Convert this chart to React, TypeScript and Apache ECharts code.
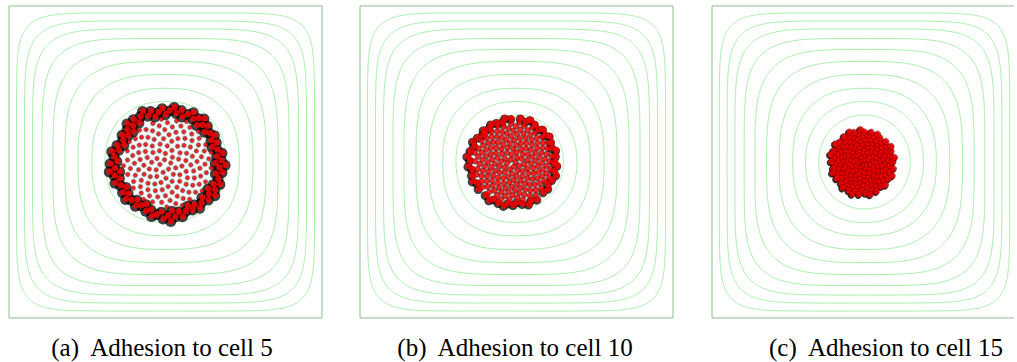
import React, { useEffect, useRef } from "react";
import * as echarts from "echarts";

// ---- data ----
// contour levels shared by the three panels: radius (px from centre) and squareness exponent
const contourRadii = [149, 141, 133, 123.5, 112.5, 100.5, 87.5, 73.7, 60.5, 47];
const contourSquareness = [8, 6.6, 5.6, 4.7, 3.9, 3.3, 2.8, 2.45, 2.2, 2.05];

const captions = ["(a)  Adhesion to cell 5", "(b)  Adhesion to cell 10", "(c)  Adhesion to cell 15"];

// cluster of cells in each panel
const clusterCenterX = [2.5, -3, -2];
const clusterCenterY = [-1, 0, -0.5];
const coreCellCounts = [135, 180, 175];
const coreRadii = [45, 40, 33.5];
const rimCellCounts = [95, 52, 0];
const rimInnerRadii = [46.5, 40.5, 0];
const rimOuterRadii = [56.5, 45, 0];
// radial bumps of the cluster outline, 12 directions counter-clockwise from east
const outlineBumpsA = [1.03, 0.98, 1.04, 1.0, 1.05, 0.97, 1.06, 1.0, 0.97, 1.04, 0.98, 1.02];
const outlineBumpsB = [1.02, 0.99, 1.02, 1.03, 0.98, 1.02, 1.03, 1.0, 1.02, 0.98, 1.03, 0.99];
const outlineBumpsC = [1.03, 1.0, 0.98, 1.02, 1.0, 1.03, 1.0, 0.98, 1.01, 1.0, 1.03, 1.0];
const outlineBumps = [outlineBumpsA, outlineBumpsB, outlineBumpsC];

// ---- layout / style ----
const PANEL_LEFT = [9, 360, 712];
const PANEL_TOP = 6;
const PANEL_W = 313;
const PANEL_H = 312;
const CAPTION_X = [162, 515, 886];
const CAPTION_Y = 347;
const CONTOUR_COLOR = "#aaf0aa";
const BORDER_COLOR = "#8dbd8d";
const GOLDEN = Math.PI * (3 - Math.sqrt(5));

function bumpAt(bumps: number[], t: number) {
  const n = bumps.length;
  let a = t % (2 * Math.PI);
  if (a < 0) a += 2 * Math.PI;
  const f = (a / (2 * Math.PI)) * n;
  const i0 = Math.floor(f) % n;
  const i1 = (i0 + 1) % n;
  const w = f - Math.floor(f);
  return bumps[i0] * (1 - w) + bumps[i1] * w;
}

function cellPositions(count: number, rIn: number, rOut: number, bumps: number[], cx: number, cy: number, bumpWeight: number) {
  const pts: number[][] = [];
  for (let i = 0; i < count; i++) {
    const t = i * GOLDEN;
    const frac = (i + 0.5) / count;
    let r = Math.sqrt(rIn * rIn + (rOut * rOut - rIn * rIn) * frac);
    const b = bumpAt(bumps, t);
    r *= 1 + (b - 1) * bumpWeight * (r / (rOut || 1));
    pts.push([cx + r * Math.cos(t), cy + r * Math.sin(t)]);
  }
  return pts;
}

function contourItem(params: any, api: any) {
  const r = api.value(0);
  const n = api.value(1);
  const pts: number[][] = [];
  const steps = 360;
  for (let k = 0; k < steps; k++) {
    const t = (k / steps) * Math.PI * 2;
    const c = Math.cos(t);
    const s = Math.sin(t);
    const x = r * Math.sign(c) * Math.pow(Math.abs(c), 2 / n);
    const y = r * Math.sign(s) * Math.pow(Math.abs(s), 2 / n);
    pts.push(api.coord([x, y]));
  }
  return {
    type: "polygon",
    shape: { points: pts },
    style: { fill: "none", stroke: CONTOUR_COLOR, lineWidth: 1 },
  };
}

function buildOption() {
  const grid: any[] = [];
  const xAxis: any[] = [];
  const yAxis: any[] = [];
  const series: any[] = [];
  const contourData = contourRadii.map((r, i) => [r, contourSquareness[i]]);

  for (let p = 0; p < 3; p++) {
    grid.push({
      left: PANEL_LEFT[p],
      top: PANEL_TOP,
      width: PANEL_W,
      height: PANEL_H,
      show: true,
      borderColor: BORDER_COLOR,
      borderWidth: 1,
      backgroundColor: "#fff",
    });
    xAxis.push({ type: "value", gridIndex: p, min: -PANEL_W / 2, max: PANEL_W / 2, show: false });
    yAxis.push({ type: "value", gridIndex: p, min: -PANEL_H / 2, max: PANEL_H / 2, show: false });

    series.push({
      type: "custom",
      xAxisIndex: p,
      yAxisIndex: p,
      renderItem: contourItem,
      data: contourData,
      z: 1,
      silent: true,
    });

    const cx = clusterCenterX[p];
    const cy = clusterCenterY[p];
    const core = cellPositions(coreCellCounts[p], 0, coreRadii[p], outlineBumps[p], cx, cy, p === 2 ? 1 : 0.4);
    const rim = rimCellCounts[p] > 0
      ? cellPositions(rimCellCounts[p], rimInnerRadii[p], rimOuterRadii[p], outlineBumps[p], cx, cy, 1)
      : [];

    if (p === 0) {
      series.push({ type: "scatter", xAxisIndex: p, yAxisIndex: p, data: core, symbol: "circle", symbolSize: 6, itemStyle: { color: "rgba(0,0,0,0.28)" }, z: 2, silent: true });
      series.push({ type: "scatter", xAxisIndex: p, yAxisIndex: p, data: rim, symbol: "circle", symbolSize: 11, symbolOffset: [-0.5, 0.5], itemStyle: { color: "rgba(0,0,0,0.92)" }, z: 3, silent: true });
      series.push({ type: "scatter", xAxisIndex: p, yAxisIndex: p, data: core, symbol: "circle", symbolSize: 4, itemStyle: { color: "#ff0000", borderColor: "#000", borderWidth: 0.3 }, z: 4, silent: true });
      series.push({ type: "scatter", xAxisIndex: p, yAxisIndex: p, data: rim, symbol: "circle", symbolSize: 6.5, itemStyle: { color: "#ff0000" }, z: 5, silent: true });
    } else if (p === 1) {
      series.push({ type: "scatter", xAxisIndex: p, yAxisIndex: p, data: core, symbol: "circle", symbolSize: 7, itemStyle: { color: "rgba(0,0,0,0.35)" }, z: 2, silent: true });
      series.push({ type: "scatter", xAxisIndex: p, yAxisIndex: p, data: rim, symbol: "circle", symbolSize: 9, symbolOffset: [-0.8, 0.8], itemStyle: { color: "rgba(0,0,0,0.92)" }, z: 3, silent: true });
      series.push({ type: "scatter", xAxisIndex: p, yAxisIndex: p, data: core, symbol: "circle", symbolSize: 5.4, itemStyle: { color: "#ff0000", borderColor: "#000", borderWidth: 0.3 }, z: 4, silent: true });
      series.push({ type: "scatter", xAxisIndex: p, yAxisIndex: p, data: rim, symbol: "circle", symbolSize: 6.8, itemStyle: { color: "#ff0000" }, z: 5, silent: true });
    } else {
      series.push({ type: "scatter", xAxisIndex: p, yAxisIndex: p, data: core, symbol: "circle", symbolSize: 7, symbolOffset: [-1, 1], itemStyle: { color: "#000" }, z: 2, silent: true });
      series.push({ type: "scatter", xAxisIndex: p, yAxisIndex: p, data: core, symbol: "circle", symbolSize: 6.4, itemStyle: { color: "#ff0000", borderColor: "#5a0000", borderWidth: 0.5 }, z: 4, silent: true });
    }
  }

  const graphic: any[] = captions.map((t, i) => ({
    type: "text",
    x: CAPTION_X[i],
    y: CAPTION_Y,
    z: 10,
    style: {
      text: t,
      fill: "#000",
      font: "normal 400 25px 'Liberation Serif', 'DejaVu Serif', serif",
      align: "center",
      verticalAlign: "middle",
    },
  }));
  graphic.push({ type: "rect", shape: { x: 1014, y: 0, width: 10, height: 362 }, style: { fill: "#fff" }, z: 20 });

  return {
    animation: false,
    backgroundColor: "#fff",
    textStyle: { fontFamily: "'Liberation Serif', serif" },
    grid,
    xAxis,
    yAxis,
    series,
    graphic,
  };
}

export default function App() {
  const ref = useRef<HTMLDivElement>(null);
  useEffect(() => {
    if (!ref.current) return;
    const chart = echarts.init(ref.current, undefined, { renderer: "svg" });
    chart.setOption(buildOption() as any);
    return () => chart.dispose();
  }, []);
  return <div ref={ref} style={{ position: "absolute", left: 0, top: 0, width: 1017, height: 362 }} />;
}
